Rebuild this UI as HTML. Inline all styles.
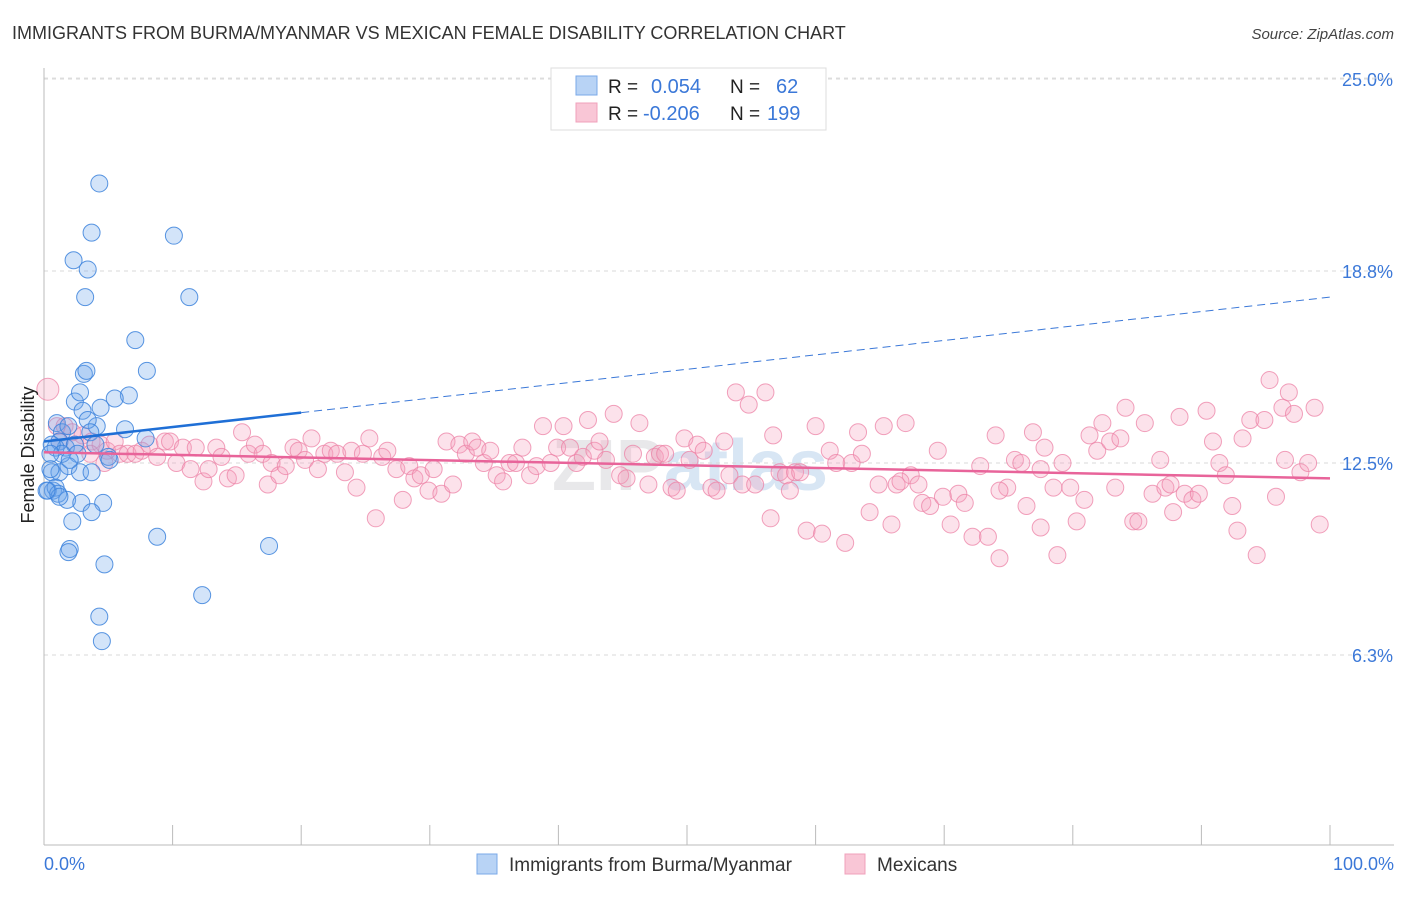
<!DOCTYPE html>
<html><head><meta charset="utf-8">
<style>
body{margin:0;background:#fff;font-family:"Liberation Sans",sans-serif;}
svg text{font-family:"Liberation Sans",sans-serif;}
</style></head>
<body>
<svg id="chart" width="1406" height="892" viewBox="0 0 1406 892" xmlns="http://www.w3.org/2000/svg">
<text x="12" y="39" font-size="18" fill="#333">IMMIGRANTS FROM BURMA/MYANMAR VS MEXICAN FEMALE DISABILITY CORRELATION CHART</text>
<text x="1394" y="39" font-size="15" font-style="italic" fill="#444" text-anchor="end">Source: ZipAtlas.com</text>
<text x="690" y="490" font-size="72" font-weight="bold" fill="#e8e8ea" text-anchor="middle">ZIP<tspan fill="#d8e6f4">atlas</tspan></text>
<g id="grid"></g>
<g id="axes"></g>
<g id="pinkPts"></g>
<g id="bluePts"></g>
<g id="trends"></g>
<text transform="translate(34,455) rotate(-90)" font-size="18" fill="#222" text-anchor="middle">Female Disability</text>
<text x="44" y="870" font-size="18" fill="#3b78d8">0.0%</text>
<text x="1394" y="870" font-size="18" fill="#3b78d8" text-anchor="end">100.0%</text>
<g>
<rect x="551" y="68" width="275" height="62" fill="#fff" stroke="#ddd"/>
<rect x="576" y="76" width="21" height="19" fill="#b8d3f5" stroke="#7aa8e8"/>
<rect x="576" y="103" width="21" height="19" fill="#f9c6d6" stroke="#f0a0bb"/>
<text x="608" y="93" font-size="19" fill="#222">R =</text>
<text x="651" y="93" font-size="20" fill="#3b78d8">0.054</text>
<text x="730" y="93" font-size="19" fill="#222">N =</text>
<text x="776" y="93" font-size="20" fill="#3b78d8">62</text>
<text x="608" y="120" font-size="19" fill="#222">R =</text>
<text x="643" y="120" font-size="20" fill="#3b78d8">-0.206</text>
<text x="730" y="120" font-size="19" fill="#222">N =</text>
<text x="767" y="120" font-size="20" fill="#3b78d8">199</text>
</g>
<g>
<rect x="477" y="854" width="20" height="20" fill="#b8d3f5" stroke="#7aa8e8"/>
<text x="509" y="871" font-size="19" fill="#333">Immigrants from Burma/Myanmar</text>
<rect x="845" y="854" width="20" height="20" fill="#f9c6d6" stroke="#f0a0bb"/>
<text x="877" y="871" font-size="19" fill="#333">Mexicans</text>
</g>
</svg>
<script>
const yTicks=[6.25,12.5,18.75,25];
const yTickLabels=["6.3%","12.5%","18.8%","25.0%"];
const xTicks=[0,10,20,30,40,50,60,70,80,90,100];
const blueX=[4.3,3.7,10.1,2.3,3.4,3.2,11.3,7.1,8.0,3.1,3.3,2.4,6.6,5.5,2.8,3.0,1.0,1.4,4.4,4.1,3.4,1.9,1.2,7.9,3.6,1.7,2.4,2.6,5.0,0.9,0.6,0.6,1.2,0.7,0.3,0.9,1.1,1.9,2.8,3.7,1.8,1.2,2.9,4.6,3.7,2.2,2.0,1.9,4.7,8.8,17.5,12.3,4.3,4.5,6.3,0.5,0.2,4.0,5.1,1.4,2.0,0.5];
const blueY=[21.6,20.0,19.9,19.1,18.8,17.9,17.9,16.5,15.5,15.4,15.5,14.5,14.7,14.6,14.8,14.2,13.8,13.5,14.3,13.7,13.9,13.7,13.2,13.3,13.5,13.0,13.1,12.8,12.7,13.0,13.1,12.2,12.2,11.6,11.6,11.7,11.5,12.4,12.2,12.2,11.3,11.4,11.2,11.2,10.9,10.6,9.7,9.6,9.2,10.1,9.8,8.2,7.5,6.7,13.6,12.3,11.6,13.1,12.6,12.8,12.6,12.8];
const pinkX=[0.3,1.0,1.6,2.2,3.0,3.7,4.4,4.9,5.5,5.9,6.5,7.1,7.6,8.2,8.8,9.4,9.8,10.3,10.8,11.4,11.8,12.4,12.8,13.4,13.8,14.3,14.9,15.4,15.9,16.4,17.0,17.4,17.7,18.3,18.8,19.4,19.8,20.3,20.8,21.3,21.8,22.3,22.8,23.4,23.9,24.3,24.8,25.3,25.8,26.3,26.7,27.4,27.9,28.4,28.8,29.3,29.9,30.3,30.9,31.3,31.8,32.3,32.8,33.3,33.7,34.2,34.7,35.2,35.7,36.2,36.7,37.2,37.8,38.3,38.8,39.4,39.9,40.4,40.9,41.4,41.9,42.3,42.8,43.2,43.7,44.3,44.8,45.3,45.8,46.3,47.0,47.5,47.9,48.3,48.8,49.2,49.8,50.2,50.8,51.3,51.9,52.3,52.9,53.3,53.8,54.3,54.8,55.3,56.1,56.5,56.7,57.2,57.7,58.0,58.4,58.8,59.3,60.0,60.5,61.1,61.6,62.3,62.8,63.3,63.6,64.2,64.9,65.3,65.9,66.3,67.0,67.4,68.0,68.3,68.9,69.5,69.9,70.5,71.1,71.6,72.2,72.8,73.4,74.0,74.3,74.9,75.5,76.0,76.4,76.9,77.5,77.8,78.5,78.8,79.2,79.8,80.3,80.9,81.3,81.9,82.3,82.9,83.3,83.7,84.1,84.7,85.1,85.6,86.2,86.8,87.2,87.8,88.3,88.7,89.3,89.8,90.4,90.9,91.4,91.9,92.4,92.8,93.2,93.8,94.3,94.9,95.3,95.8,96.3,96.8,97.2,97.7,98.3,98.8,99.2,96.5,87.6,74.3,66.6,77.5,1.2,2.4,3.6,4.7];
const pinkY=[14.9,13.7,13.7,13.5,13.4,13.2,13.1,12.9,13.2,12.8,12.8,12.8,12.9,13.1,12.7,13.2,13.2,12.5,13.0,12.3,13.0,11.9,12.3,13.0,12.7,12.0,12.1,13.5,12.8,13.1,12.8,11.8,12.5,12.1,12.4,13.0,12.9,12.6,13.3,12.3,12.8,12.9,12.8,12.2,12.9,11.7,12.8,13.3,10.7,12.7,12.9,12.3,11.3,12.4,12.0,12.1,11.6,12.3,11.5,13.2,11.8,13.1,12.8,13.2,13.0,12.5,12.9,12.1,11.9,12.5,12.5,13.0,12.1,12.4,13.7,12.5,13.0,13.7,13.0,12.5,12.7,13.9,12.9,13.2,12.6,14.1,12.1,12.0,12.8,13.8,11.8,12.7,12.8,12.8,11.7,11.6,13.3,12.6,13.1,12.9,11.7,11.6,13.2,12.1,14.8,11.8,14.4,11.8,14.8,10.7,13.4,12.2,12.1,11.6,12.2,12.2,10.3,13.7,10.2,12.9,12.5,9.9,12.5,13.5,12.8,10.9,11.8,13.7,10.5,11.8,13.8,12.1,11.8,11.2,11.1,12.9,11.4,10.5,11.5,11.2,10.1,12.4,10.1,13.4,9.4,11.7,12.6,12.5,11.1,13.5,10.4,13.0,11.7,9.5,12.5,11.7,10.6,11.3,13.4,12.9,13.8,13.2,11.7,13.3,14.3,10.6,10.6,13.8,11.5,12.6,11.7,10.9,14.0,11.5,11.3,11.5,14.2,13.2,12.5,12.1,11.1,10.3,13.3,13.9,9.5,13.9,15.2,11.4,14.3,14.8,14.1,12.2,12.5,14.3,10.5,12.6,11.8,11.6,11.9,12.3,13.2,13.1,12.8,12.5];
const blueTrend=[13.2,17.9];
const pinkTrend=[12.85,12.0];

const NS="http://www.w3.org/2000/svg";
const X0=44,X1=1330,Y0=847,PXY=30.72;
function sx(v){return X0+(X1-X0)*v/100;}
function sy(v){return Y0-v*PXY;}
function mk(tag,attrs,parent){const e=document.createElementNS(NS,tag);for(const k in attrs)e.setAttribute(k,attrs[k]);parent.appendChild(e);return e;}

const grid=document.getElementById('grid');
yTicks.forEach((t,i)=>{
  const l=mk('line',{x1:X0,x2:1394,y1:sy(t),y2:sy(t),stroke:'#d8d8d8','stroke-dasharray':'4,4'},grid);
  
  
  const tx=mk('text',{x:1393,y:sy(t)+7,'font-size':18,fill:'#3b78d8','text-anchor':'end'},grid);
  tx.textContent=yTickLabels[i];
  
  
});
const topLine=mk('line',{x1:X0,x2:1394,y1:78,y2:78,stroke:'#e0e0e0','stroke-dasharray':'4,4'},grid);



const axes=document.getElementById('axes');
const ya=mk('line',{x1:X0,x2:X0,y1:68,y2:845,stroke:'#bbb'},axes);


const xa=mk('line',{x1:X0,x2:1394,y1:845,y2:845,stroke:'#bbb'},axes);


xTicks.forEach(t=>{
  const l=mk('line',{x1:sx(t),x2:sx(t),y1:825,y2:845,stroke:'#bbb'},axes);
  
  
});

const pg=document.getElementById('pinkPts');
pinkX.forEach((v,i)=>{
  const c=mk('circle',{cx:sx(v),cy:sy(pinkY[i]),r:i===0?11:8.5,fill:'rgba(244,160,188,0.3)',stroke:'rgba(236,130,165,0.75)','stroke-width':1},pg);
  
  
});
const bg=document.getElementById('bluePts');
blueX.forEach((v,i)=>{
  const c=mk('circle',{cx:sx(v),cy:sy(blueY[i]),r:8.5,fill:'rgba(110,165,235,0.3)',stroke:'rgba(60,130,220,0.85)','stroke-width':1},bg);
  
  
});

const tg=document.getElementById('trends');
const bAt=x=>blueTrend[0]+(blueTrend[1]-blueTrend[0])*x/100;
const bs=mk('line',{x1:sx(0),y1:sy(bAt(0)),x2:sx(20),y2:sy(bAt(20)),stroke:'#1f6fd6','stroke-width':2.5},tg);


const bd=mk('line',{x1:sx(20),y1:sy(bAt(20)),x2:sx(100),y2:sy(bAt(100)),stroke:'#3b78d8','stroke-width':1,'stroke-dasharray':'8,5'},tg);


const pt=mk('line',{x1:sx(0),y1:sy(pinkTrend[0]),x2:sx(100),y2:sy(pinkTrend[1]),stroke:'#e8649a','stroke-width':2.5},tg);


</script>
</body></html>
